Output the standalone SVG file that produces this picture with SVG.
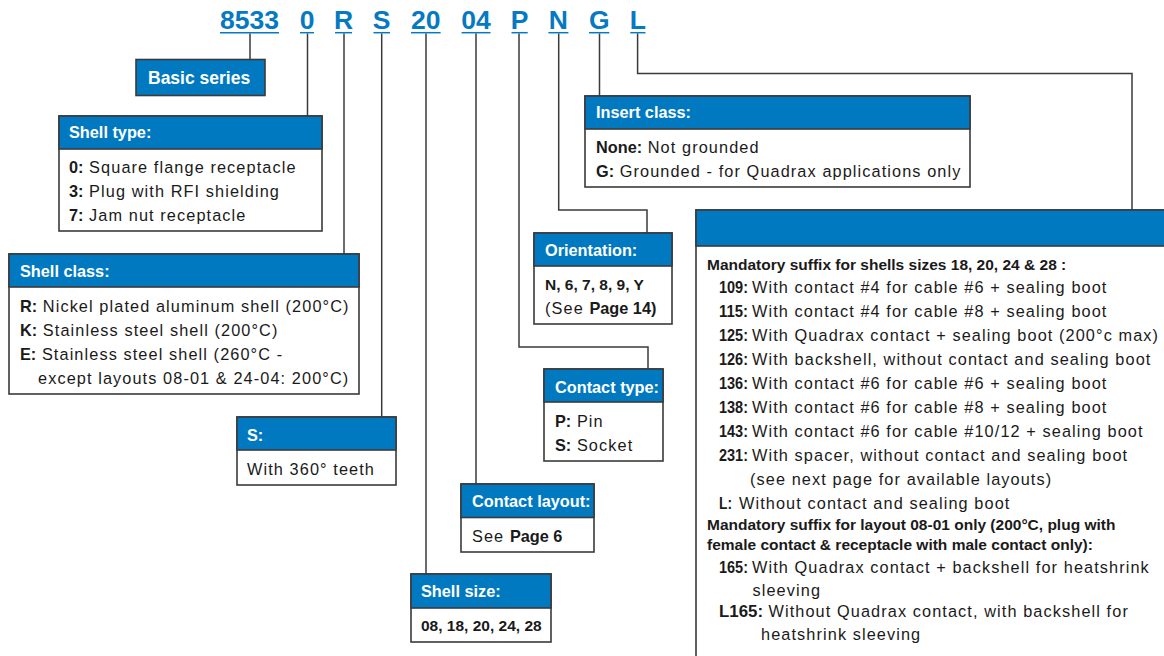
<svg xmlns="http://www.w3.org/2000/svg" width="1164" height="656" viewBox="0 0 1164 656">
<style>
.code{font-family:"Liberation Sans",Arial,sans-serif;font-weight:bold;font-size:26.5px;fill:#0579c1;text-anchor:middle}
.ul{stroke:#0579c1;stroke-width:1.5}
.box{fill:#fff;stroke:#3a3a3a;stroke-width:1.6}
.hdr{fill:#0079c1;stroke:#3a3a3a;stroke-width:1.6}
.ht{font-family:"Liberation Sans",Arial,sans-serif;font-weight:bold;font-size:16.3px;fill:#fff}
.t{font-family:"Liberation Sans",Arial,sans-serif;font-size:16.3px;letter-spacing:1.1px;fill:#1a1a1a}
.b{font-weight:bold;letter-spacing:0}
.bt{font-family:"Liberation Sans",Arial,sans-serif;font-weight:bold;font-size:15.5px;fill:#1a1a1a}
.conn{fill:none;stroke:#3a3a3a;stroke-width:1.5}
</style>

<g id="codes">
<text class="code" x="249.6" y="29.3">8533</text>
<text class="code" x="307" y="29.3">0</text>
<text class="code" x="343.5" y="29.3">R</text>
<text class="code" x="381.7" y="29.3">S</text>
<text class="code" x="425.8" y="29.3">20</text>
<text class="code" x="476" y="29.3">04</text>
<text class="code" x="519.6" y="29.3">P</text>
<text class="code" x="558.4" y="29.3">N</text>
<text class="code" x="599.2" y="29.3">G</text>
<text class="code" x="637.9" y="29.3">L</text>
<line class="ul" x1="220" y1="32.7" x2="279" y2="32.7"/>
<line class="ul" x1="300" y1="32.7" x2="314" y2="32.7"/>
<line class="ul" x1="335" y1="32.7" x2="352" y2="32.7"/>
<line class="ul" x1="373.5" y1="32.7" x2="390" y2="32.7"/>
<line class="ul" x1="411" y1="32.7" x2="440.6" y2="32.7"/>
<line class="ul" x1="461.6" y1="32.7" x2="490.5" y2="32.7"/>
<line class="ul" x1="511.5" y1="32.7" x2="527.7" y2="32.7"/>
<line class="ul" x1="548.4" y1="32.7" x2="568.4" y2="32.7"/>
<line class="ul" x1="589" y1="32.7" x2="609.3" y2="32.7"/>
<line class="ul" x1="630.3" y1="32.7" x2="645.5" y2="32.7"/>
</g>

<g id="connectors">
<path class="conn" d="M250 33.5V59.5"/>
<path class="conn" d="M307.5 33.5V116"/>
<path class="conn" d="M344 33.5V254"/>
<path class="conn" d="M381.7 33.5V417"/>
<path class="conn" d="M426 33.5V574"/>
<path class="conn" d="M476 33.5V484"/>
<path class="conn" d="M519 33.5V347H648V369"/>
<path class="conn" d="M558.7 33.5V210H647V233"/>
<path class="conn" d="M599.5 33.5V96"/>
<path class="conn" d="M637.6 33.5V73.5H1132V210"/>
</g>

<g id="basic-series">
<rect class="hdr" x="136" y="59.5" width="129" height="36"/>
<text class="ht" style="font-size:17.5px" x="148" y="84">Basic series</text>
</g>

<g id="shell-type">
<rect class="box" x="59" y="116" width="263" height="115"/>
<rect class="hdr" x="59" y="116" width="263" height="33"/>
<text class="ht" x="69" y="138">Shell type:</text>
<text class="t" x="69" y="173"><tspan class="b">0:</tspan> Square flange receptacle</text>
<text class="t" x="69" y="197"><tspan class="b">3:</tspan> Plug with RFI shielding</text>
<text class="t" x="69" y="221"><tspan class="b">7:</tspan> Jam nut receptacle</text>
</g>

<g id="shell-class">
<rect class="box" x="9" y="254" width="350" height="140"/>
<rect class="hdr" x="9" y="254" width="350" height="33"/>
<text class="ht" x="20" y="277">Shell class:</text>
<text class="t" x="20" y="312"><tspan class="b">R:</tspan> Nickel plated aluminum shell (200°C)</text>
<text class="t" x="20" y="336"><tspan class="b">K:</tspan> Stainless steel shell (200°C)</text>
<text class="t" x="20" y="360"><tspan class="b">E:</tspan> Stainless steel shell (260°C -</text>
<text class="t" x="38" y="384">except layouts 08-01 &amp; 24-04: 200°C)</text>
</g>

<g id="s-box">
<rect class="box" x="237" y="417" width="159" height="68"/>
<rect class="hdr" x="237" y="417" width="159" height="33"/>
<text class="ht" x="247" y="441">S:</text>
<text class="t" x="247" y="475">With 360° teeth</text>
</g>

<g id="shell-size">
<rect class="box" x="411" y="574" width="140" height="68"/>
<rect class="hdr" x="411" y="574" width="140" height="34"/>
<text class="ht" x="421" y="597">Shell size:</text>
<text class="bt" x="421" y="631">08, 18, 20, 24, 28</text>
</g>

<g id="contact-layout">
<rect class="box" x="461" y="484" width="133" height="68"/>
<rect class="hdr" x="461" y="484" width="133" height="33.5"/>
<text class="ht" x="472" y="507">Contact layout:</text>
<text class="t" x="472" y="542">See <tspan class="b">Page 6</tspan></text>
</g>

<g id="contact-type">
<rect class="box" x="544" y="369" width="119" height="92"/>
<rect class="hdr" x="544" y="369" width="119" height="33"/>
<text class="ht" x="555" y="393">Contact type:</text>
<text class="t" x="555" y="427"><tspan class="b">P:</tspan> Pin</text>
<text class="t" x="555" y="451"><tspan class="b">S:</tspan> Socket</text>
</g>

<g id="orientation">
<rect class="box" x="534" y="233" width="138" height="91"/>
<rect class="hdr" x="534" y="233" width="138" height="33"/>
<text class="ht" x="545" y="256">Orientation:</text>
<text class="bt" x="545" y="290">N, 6, 7, 8, 9, Y</text>
<text class="t" x="545" y="314">(See <tspan class="b">Page 14)</tspan></text>
</g>

<g id="insert-class">
<rect class="box" x="585" y="96" width="385" height="91"/>
<rect class="hdr" x="585" y="96" width="385" height="33"/>
<text class="ht" x="596" y="118">Insert class:</text>
<text class="t" x="596" y="153"><tspan class="b">None:</tspan> Not grounded</text>
<text class="t" x="596" y="177"><tspan class="b">G:</tspan> Grounded - for Quadrax applications only</text>
</g>

<g id="suffix">
<rect class="box" x="696" y="210" width="520" height="500"/>
<rect class="hdr" x="696" y="210" width="520" height="36"/>
<text class="bt" x="707" y="270">Mandatory suffix for shells sizes 18, 20, 24 &amp; 28 :</text>
<text class="t" x="719" y="293"><tspan class="b" textLength="29" lengthAdjust="spacingAndGlyphs">109:</tspan><tspan x="752">With contact #4 for cable #6 + sealing boot</tspan></text>
<text class="t" x="719" y="317"><tspan class="b" textLength="29" lengthAdjust="spacingAndGlyphs">115:</tspan><tspan x="752">With contact #4 for cable #8 + sealing boot</tspan></text>
<text class="t" x="719" y="341"><tspan class="b" textLength="29" lengthAdjust="spacingAndGlyphs">125:</tspan><tspan x="752">With Quadrax contact + sealing boot (200°c max)</tspan></text>
<text class="t" x="719" y="365"><tspan class="b" textLength="29" lengthAdjust="spacingAndGlyphs">126:</tspan><tspan x="752">With backshell, without contact and sealing boot</tspan></text>
<text class="t" x="719" y="389"><tspan class="b" textLength="29" lengthAdjust="spacingAndGlyphs">136:</tspan><tspan x="752">With contact #6 for cable #6 + sealing boot</tspan></text>
<text class="t" x="719" y="413"><tspan class="b" textLength="29" lengthAdjust="spacingAndGlyphs">138:</tspan><tspan x="752">With contact #6 for cable #8 + sealing boot</tspan></text>
<text class="t" x="719" y="437"><tspan class="b" textLength="29" lengthAdjust="spacingAndGlyphs">143:</tspan><tspan x="752">With contact #6 for cable #10/12 + sealing boot</tspan></text>
<text class="t" x="719" y="461"><tspan class="b" textLength="29" lengthAdjust="spacingAndGlyphs">231:</tspan><tspan x="752">With spacer, without contact and sealing boot</tspan></text>
<text class="t" x="750" y="485">(see next page for available layouts)</text>
<text class="t" x="719" y="509"><tspan class="b" textLength="13" lengthAdjust="spacingAndGlyphs">L:</tspan><tspan x="739">Without contact and sealing boot</tspan></text>
<text class="bt" x="707" y="529.5">Mandatory suffix for layout 08-01 only (200°C, plug with</text>
<text class="bt" x="707" y="550">female contact &amp; receptacle with male contact only):</text>
<text class="t" x="719" y="573"><tspan class="b" textLength="29" lengthAdjust="spacingAndGlyphs">165:</tspan><tspan x="752">With Quadrax contact + backshell for heatshrink</tspan></text>
<text class="t" x="752.5" y="596">sleeving</text>
<text class="t" x="719" y="617"><tspan class="b" textLength="44" lengthAdjust="spacingAndGlyphs">L165:</tspan><tspan x="768.5">Without Quadrax contact, with backshell for</tspan></text>
<text class="t" x="761" y="640">heatshrink sleeving</text>
</g>
</svg>
